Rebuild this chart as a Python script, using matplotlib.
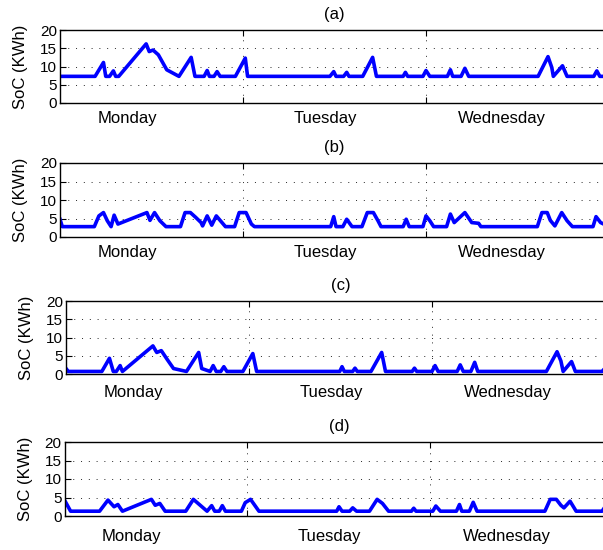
import matplotlib
matplotlib.use('Agg')
import matplotlib.pyplot as plt

plt.rcParams['font.family'] = ['Liberation Sans', 'DejaVu Sans']

# hours from Monday 00:00, SoC in KWh
hours_a = [0, 4.6, 5.7, 6.0, 6.5, 7.0, 7.3, 7.7, 11.3, 11.7, 12.2, 12.9, 14.0, 15.6,
           17.2, 17.7, 18.9, 19.3, 19.6, 20.2, 20.6, 21.0, 23.0, 24.3, 24.6,
           35.4, 35.9, 36.2, 37.2, 37.6, 37.9, 39.7, 41.0, 41.5, 45.0, 45.3, 45.6,
           47.6, 48.0, 48.5, 50.8, 51.2, 51.5, 52.6, 53.1, 53.6,
           62.7, 64.0, 64.5, 64.7, 65.9, 66.5, 70.0, 70.4, 70.8, 72]
soc_a = [7.3, 7.3, 11.1, 7.3, 7.3, 8.8, 7.3, 7.3, 16.2, 14.1, 14.5, 13.2, 9.1, 7.3,
         12.5, 7.3, 7.3, 8.9, 7.3, 7.3, 8.6, 7.3, 7.3, 12.3, 7.3,
         7.3, 8.6, 7.3, 7.3, 8.4, 7.3, 7.3, 12.5, 7.3, 7.3, 8.4, 7.3,
         7.3, 8.9, 7.3, 7.3, 9.1, 7.3, 7.3, 9.5, 7.3,
         7.3, 12.7, 9.7, 7.3, 10.2, 7.3, 7.3, 8.8, 7.3, 7.3]

hours_b = [0, 0.3, 4.5, 5.1, 5.7, 6.2, 6.7, 7.1, 7.6, 11.4, 11.8, 12.4, 13.1, 13.9,
           15.8, 16.4, 17.1, 17.8, 18.5, 18.7, 19.3, 19.9, 20.5, 21.7,
           22.9, 23.5, 24.4, 25.1, 25.5, 35.5, 35.9, 36.2, 37.1, 37.6, 38.3,
           39.6, 40.3, 41.1, 41.7, 42.1, 45.0, 45.4, 45.8, 47.6, 48.0, 48.5, 49.0,
           50.7, 51.2, 51.7, 53.1, 54.0, 54.9, 55.2,
           62.6, 63.2, 63.9, 64.3, 64.9, 65.8, 66.5, 67.2, 69.9, 70.3, 70.9, 72]
soc_b = [4.8, 2.8, 2.8, 5.7, 6.6, 4.4, 2.8, 5.9, 3.5, 6.6, 4.5, 6.6, 4.4, 2.8,
         2.8, 6.6, 6.6, 5.3, 3.9, 3.0, 5.7, 3.2, 5.7, 2.8,
         2.8, 6.6, 6.6, 3.5, 2.8, 2.8, 5.5, 2.8, 2.8, 4.8, 2.8,
         2.8, 6.6, 6.6, 4.4, 2.8, 2.8, 4.8, 2.8, 2.8, 5.7, 4.4, 2.8,
         2.8, 6.2, 3.9, 6.6, 3.9, 3.7, 2.8,
         2.8, 6.6, 6.6, 4.5, 3.0, 6.6, 4.4, 2.8, 2.8, 5.5, 3.9, 2.8]

hours_c = [0, 0.3, 4.7, 5.7, 6.2, 6.6, 7.1, 7.4, 11.4, 11.9, 12.5, 13.3, 14.1, 15.8,
           17.4, 17.8, 18.9, 19.3, 19.7, 20.3, 20.7, 21.1, 23.2, 24.5, 25.0,
           35.9, 36.2, 36.5, 37.6, 37.9, 38.2, 40.0, 41.4, 41.9, 45.4, 45.7, 46.0,
           48.0, 48.4, 48.8, 51.3, 51.7, 52.1, 53.1, 53.6, 54.0,
           63.0, 64.4, 64.9, 65.2, 66.3, 66.8, 70.3, 70.7, 72]
soc_c = [1.5, 0.7, 0.7, 4.3, 0.7, 0.7, 2.3, 0.7, 7.7, 5.9, 6.4, 3.9, 1.5, 0.7,
         5.9, 1.5, 0.7, 2.3, 0.7, 0.7, 2.0, 0.7, 0.7, 5.6, 0.7,
         0.7, 2.0, 0.7, 0.7, 1.6, 0.7, 0.7, 5.9, 0.7, 0.7, 1.6, 0.7,
         0.7, 2.3, 0.7, 0.7, 2.5, 0.7, 0.7, 3.2, 0.7,
         0.7, 6.1, 3.6, 0.7, 3.4, 0.7, 0.7, 1.6, 1.6]

hours_d = [0, 0.8, 4.6, 5.7, 6.5, 7.0, 7.6, 11.4, 11.9, 12.5, 13.2,
           15.9, 16.9, 17.8, 18.7, 19.3, 19.7, 20.3, 20.7, 21.1, 23.2, 23.7, 24.4, 25.5,
           35.7, 36.0, 36.4, 37.4, 37.8, 38.3, 40.0, 41.0, 41.7, 42.5, 45.5, 45.8, 46.1,
           48.3, 48.7, 49.3, 51.4, 51.8, 52.1, 53.1, 53.6, 54.1,
           63.0, 63.7, 64.5, 65.1, 65.5, 66.3, 67.1, 70.5, 70.9, 72]
soc_d = [4.3, 1.3, 1.3, 4.3, 2.5, 3.1, 1.3, 4.5, 2.9, 3.4, 1.3,
         1.3, 4.5, 2.9, 1.3, 2.8, 1.3, 1.3, 2.8, 1.3, 1.3, 3.6, 4.5, 1.3,
         1.3, 2.5, 1.3, 1.3, 2.2, 1.3, 1.3, 4.5, 3.4, 1.3, 1.3, 2.1, 1.3,
         1.3, 2.7, 1.3, 1.3, 3.1, 1.3, 1.3, 3.7, 1.3,
         1.3, 4.5, 4.5, 2.9, 2.2, 4.0, 1.3, 1.3, 2.5, 2.5]

days = ['Monday', 'Tuesday', 'Wednesday']
day_label_hours = [8.8, 34.8, 58.0]
panel_titles = ['(a)', '(b)', '(c)', '(d)']

W, H = 603, 550
fig = plt.figure(figsize=(W / 100, H / 100), dpi=100)

# (left, top, bottom) in pixels, day-label offset below axes in pixels
boxes = [(60, 30, 103, 15), (60, 163, 237, 16), (66, 301, 374, 18), (64.5, 442, 516, 21)]
ax_width = 549

series = [(hours_a, soc_a), (hours_b, soc_b), (hours_c, soc_c), (hours_d, soc_d)]

for (left, top, bottom, off), (hrs, soc), ttl in zip(boxes, series, panel_titles):
    ax = fig.add_axes([left / W, 1 - bottom / H, ax_width / W, (bottom - top) / H])
    ax.plot(hrs, soc, color='#0000ff', linewidth=2.6)
    ax.set_xlim(0, 72)
    ax.set_ylim(0, 20)
    ax.set_yticks([0, 5, 10, 15, 20])
    ax.set_xticks([24, 48])
    ax.set_xticklabels([])
    ax.tick_params(direction='in', top=True, right=True, length=4, width=0.8,
                   labelsize=11, pad=2)
    ax.grid(True, linestyle=(0, (1, 7)), color='0.15', linewidth=0.7)
    for s in ax.spines.values():
        s.set_linewidth(1.0)
    ax.set_ylabel('SoC (KWh)', fontsize=12)
    ax.yaxis.set_label_coords(-32 / ax_width, 0.5)
    ax.set_title(ttl, fontsize=12, pad=8)
    for d, hx in zip(days, day_label_hours):
        ax.annotate(d, xy=(hx, 0), xycoords=('data', 'axes fraction'),
                    xytext=(0, -off * 0.72), textcoords='offset points',
                    ha='center', va='center', fontsize=12)

fig.savefig('out.png', dpi=100)
